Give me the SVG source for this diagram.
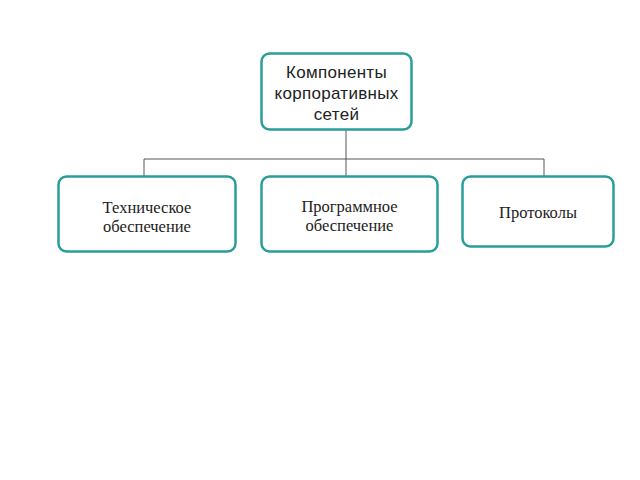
<svg xmlns="http://www.w3.org/2000/svg" width="640" height="480" viewBox="0 0 640 480">
<style>
.box{fill:#fff;stroke:#2a9d98;stroke-width:2.5}
.t1{font-family:"Liberation Sans",Arial,sans-serif;font-size:17px;letter-spacing:0.3px;fill:#222;text-anchor:middle}
.t2{font-family:"Liberation Serif","Times New Roman",serif;font-size:16.5px;fill:#222;text-anchor:middle}
.c{fill:none;stroke:#555;stroke-width:1}
</style>
<rect width="640" height="480" fill="#fff"/>
<g id="connectors">
<path class="c" d="M346 130V159M144 159H544M144 159V176M346 159V176M544 159V176"/>
</g>
<g id="root">
<rect class="box" x="261.5" y="53.5" width="150" height="76" rx="8"/>
<text class="t1" x="336.5" y="78">Компоненты</text>
<text class="t1" x="336.5" y="98.5">корпоративных</text>
<text class="t1" x="336.5" y="119.5">сетей</text>
</g>
<g id="hardware">
<rect class="box" x="58.5" y="176.5" width="177" height="75" rx="8"/>
<text class="t2" x="147" y="213">Техническое</text>
<text class="t2" x="147" y="232">обеспечение</text>
</g>
<g id="software">
<rect class="box" x="261.5" y="176.5" width="176" height="75" rx="8"/>
<text class="t2" x="349.5" y="212">Программное</text>
<text class="t2" x="349.5" y="230.5">обеспечение</text>
</g>
<g id="protocols">
<rect class="box" x="462.5" y="176.5" width="151" height="70" rx="8"/>
<text class="t2" x="538" y="218">Протоколы</text>
</g>
</svg>
